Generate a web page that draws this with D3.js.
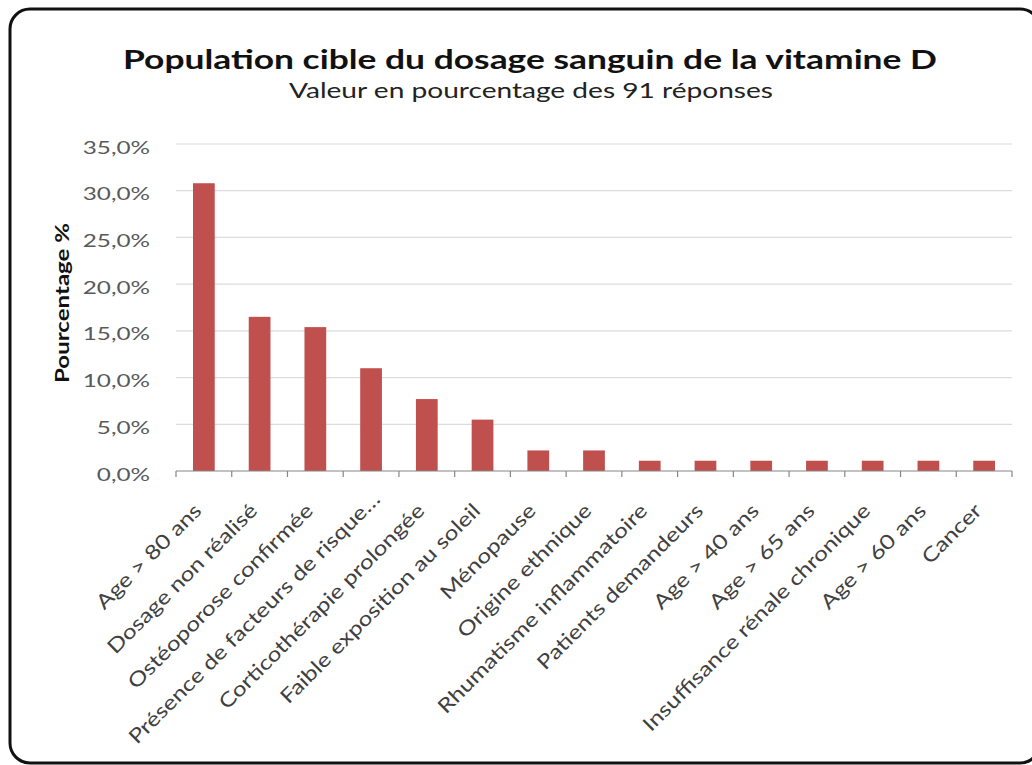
<!DOCTYPE html>
<html><head><meta charset="utf-8">
<script src="https://cdn.jsdelivr.net/npm/d3@7"></script>
<style>html,body{margin:0;padding:0;background:#fff;}</style>
</head><body>
<svg id="chart" width="1032" height="765"></svg>
<script>
const categories = ["Age > 80 ans","Dosage non réalisé","Ostéoporose confirmée","Présence de facteurs de risque…","Corticothérapie prolongée","Faible exposition au soleil","Ménopause","Origine ethnique","Rhumatisme inflammatoire","Patients demandeurs","Age > 40 ans","Age > 65 ans","Insuffisance rénale chronique","Age > 60 ans","Cancer"];
const values = [0.308,0.165,0.154,0.110,0.077,0.055,0.022,0.022,0.011,0.011,0.011,0.011,0.011,0.011,0.011];
const yTicks = [0,0.05,0.10,0.15,0.20,0.25,0.30,0.35];
const title = "Population cible du dosage sanguin de la vitamine D";
const subtitle = "Valeur en pourcentage des 91 réponses";
const yTitle = "Pourcentage %";

const svg = d3.select("#chart");
const font = "Lato, 'Open Sans', sans-serif";
const m = {left:176, right:1012, top:144, bottom:471};

function stretch(sel, k){
  sel.each(function(){
    const L = this.getComputedTextLength();
    d3.select(this).attr("textLength", L*k).attr("lengthAdjust","spacingAndGlyphs");
  });
}

svg.append("rect").attr("x",10).attr("y",9).attr("width",1030).attr("height",754)
  .attr("rx",20).attr("fill","#fff").attr("stroke","#111").attr("stroke-width",3);

const x = d3.scaleBand().domain(categories).range([m.left,m.right]).paddingInner(0.61).paddingOuter(0.305);
const y = d3.scaleLinear().domain([0,0.35]).range([m.bottom,m.top]);

// gridlines
svg.append("g").selectAll("line").data(yTicks.slice(1)).join("line")
  .attr("x1",m.left).attr("x2",m.right).attr("y1",d=>y(d)).attr("y2",d=>y(d))
  .attr("stroke","#dcdcdc").attr("stroke-width",1.2);

// bars
svg.append("g").selectAll("rect").data(values).join("rect")
  .attr("x",(d,i)=>x(categories[i])).attr("width",x.bandwidth())
  .attr("y",d=>y(d)).attr("height",d=>y(0)-y(d)).attr("fill","#c0504d");

// y axis labels
const fmt = v => (v*100).toFixed(1).replace(".",",")+"%";
const yAxis = d3.axisLeft(y).tickValues(yTicks).tickFormat(fmt).tickSize(0).tickPadding(26);
const gy = svg.append("g").attr("transform",`translate(${m.left},0)`).call(yAxis);
gy.select(".domain").remove();
gy.selectAll("text").attr("font-family",font).attr("font-size",18).attr("fill","#595959").attr("dy","0.5em");
stretch(gy.selectAll("text"), 1.35);

// x axis
const step = x.step();
const gx = svg.append("g").attr("transform",`translate(0,${m.bottom})`);
gx.append("line").attr("x1",m.left).attr("x2",m.right).attr("y1",0).attr("y2",0).attr("stroke","#868686").attr("stroke-width",1.2);
const tickPos = d3.range(categories.length+1).map(i=>m.left+i*step);
gx.selectAll("line.tk").data(tickPos).join("line").attr("class","tk")
  .attr("x1",d=>d).attr("x2",d=>d).attr("y1",0).attr("y2",6).attr("stroke","#868686").attr("stroke-width",1.2);
const xl = gx.selectAll("text").data(categories).join("text")
  .attr("transform",d=>`translate(${x(d)+x.bandwidth()/2-6},${36}) rotate(-45)`)
  .attr("text-anchor","end").attr("dy","0.35em")
  .attr("dx",d=>d.endsWith("…")?16:0)
  .attr("font-family",font).attr("font-size",20).attr("fill","#404040").text(d=>d);
stretch(xl, 1.22);

// titles
svg.append("text").attr("x",530).attr("y",69).attr("text-anchor","middle")
  .attr("font-family",font).attr("font-weight","bold").attr("font-size",27).attr("fill","#111").text(title)
  .attr("textLength",814).attr("lengthAdjust","spacingAndGlyphs");
svg.append("text").attr("x",531).attr("y",98).attr("text-anchor","middle")
  .attr("font-family",font).attr("font-size",21).attr("fill","#222").text(subtitle)
  .attr("textLength",484).attr("lengthAdjust","spacingAndGlyphs");
svg.append("text").attr("transform","translate(69,303) rotate(-90)").attr("text-anchor","middle")
  .attr("font-family",font).attr("font-weight","bold").attr("font-size",19).attr("fill","#111").text(yTitle)
  .attr("textLength",160).attr("lengthAdjust","spacingAndGlyphs");
</script>
</body></html>
